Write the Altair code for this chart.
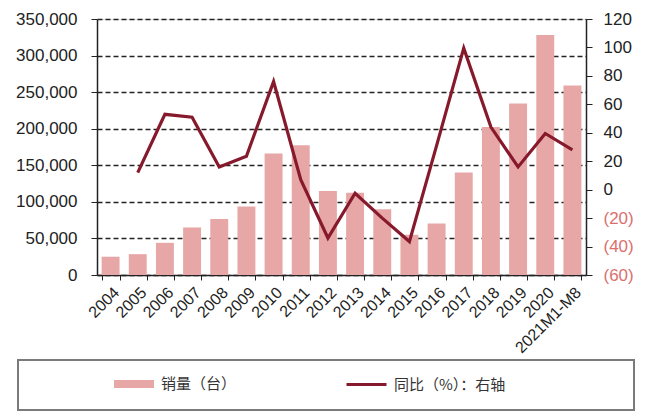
import altair as alt
import pandas as pd

years = ["2004", "2005", "2006", "2007", "2008", "2009", "2010", "2011", "2012",
         "2013", "2014", "2015", "2016", "2017", "2018", "2019", "2020", "2021M1-M8"]
sales = [25000, 28500, 44000, 65000, 76500, 93500, 166000, 177500, 115000,
         112500, 90000, 55000, 70500, 140000, 202500, 234500, 328000, 259000]
yoy = [None, 12, 53, 51, 16, 23.5, 76, 7, -34, -2.5, -20, -36.5, 31, 99.5, 44, 16, 39.5, 28]

bar_name = "销量（台）"
line_name = "同比（%）：右轴"

df = pd.DataFrame({"year": years, "sales": sales, "yoy": yoy,
                   "s1": [bar_name] * len(years), "s2": [line_name] * len(years)})

W, H = 489, 256
FONT = "Liberation Sans"
CJK = "Noto Sans CJK SC"

xenc = alt.X("year:N", sort=years, title=None,
             scale=alt.Scale(paddingInner=0.34, paddingOuter=0.17),
             axis=alt.Axis(labelAngle=-45, labelFont=FONT, labelFontSize=16,
                           labelColor="#222", tickBand="extent", tickSize=5,
                           tickColor="#222", domainColor="#222", domainWidth=1.5,
                           labelPadding=4))

bars = alt.Chart(df).mark_bar(color="#e8a7a7").encode(
    x=xenc,
    y=alt.Y("sales:Q", title=None,
            scale=alt.Scale(domain=[0, 350000], nice=False),
            axis=alt.Axis(values=list(range(0, 350001, 50000)), format=",.0f",
                          labelFont=FONT, labelFontSize=17, labelColor="#222",
                          tickSize=6, tickColor="#222", domainColor="#222",
                          domainWidth=1.5, labelPadding=14,
                          grid=True, gridColor="#222", gridDash=[5, 3],
                          gridWidth=1.4)),
    color=alt.Color("s1:N", scale=alt.Scale(domain=[bar_name], range=["#e8a7a7"]),
                    legend=alt.Legend(title=None, orient="none", legendX=16, legendY=344,
                                      symbolType="M-1,-0.2L1,-0.2L1,0.2L-1,0.2Z",
                                      symbolSize=1600, labelFont=CJK, labelFontSize=15,
                                      labelColor="#333", padding=0, labelOffset=6)),
)

line = alt.Chart(df).mark_line(strokeWidth=3.2).encode(
    x=alt.X("year:N", sort=years),
    y=alt.Y("yoy:Q", title=None,
            scale=alt.Scale(domain=[-60, 120], nice=False),
            axis=alt.Axis(orient="right", values=list(range(-60, 121, 20)),
                          labelExpr="datum.value < 0 ? '(' + abs(datum.value) + ')' : datum.value",
                          labelColor={"condition": {"test": "datum.value < 0", "value": "#d9706f"},
                                      "value": "#222"},
                          labelFont=FONT, labelFontSize=17, tickSize=6,
                          tickColor="#222", domainColor="#222", domainWidth=1.5,
                          labelPadding=11, grid=False)),
    stroke=alt.Stroke("s2:N", scale=alt.Scale(domain=[line_name], range=["#861a2c"]),
                      legend=alt.Legend(title=None, orient="none", legendX=248, legendY=344,
                                        symbolType="stroke", symbolSize=1600,
                                        symbolStrokeWidth=3, labelFont=CJK,
                                        labelFontSize=15, labelColor="#333",
                                        padding=0, labelOffset=6)),
)

box = alt.Chart(pd.DataFrame({"a": [1]})).mark_rect(
    fill=None, stroke="#7a7a7a", strokeWidth=2
).encode(x=alt.value(-79), x2=alt.value(537), y=alt.value(341), y2=alt.value(391))

chart = alt.layer(bars, line, box).resolve_scale(y="independent").properties(
    width=W, height=H,
    autosize=alt.AutoSizeParams(type="none"),
    padding={"left": 97, "top": 19, "right": 61, "bottom": 137},
).configure_view(stroke=None).configure(background="white")

chart.save("out.html", embed_options={"renderer": "svg", "actions": False})
